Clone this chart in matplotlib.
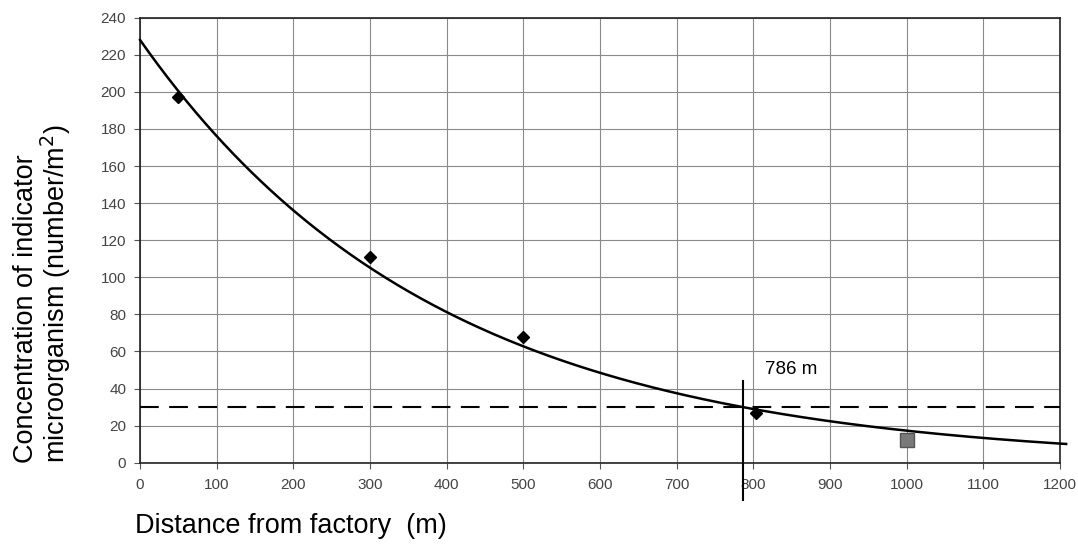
import numpy as np
import matplotlib
matplotlib.use("Agg")
import matplotlib.pyplot as plt

# ─── Daten ────────────────────────────────────────────────────────────────────
dist_pts = [50, 300, 500, 803]          # Messpunkte (Rauten)
conc_pts = [197, 111, 68, 27]
dist_sq = [1000]                         # Einzelpunkt (Quadrat)
conc_sq = [12]

FIT_A = 228.0      # Trendkurve: y = A * exp(-K * x)
FIT_K = 0.00258
THRESHOLD = 30     # gestrichelte Grenzlinie
CROSS_X = 786      # Schnittpunkt
CROSS_LABEL = "786 m"

x_ticks = list(range(0, 1201, 100))
y_ticks = list(range(0, 241, 20))

plt.rcParams["font.family"] = ["Liberation Sans", "DejaVu Sans"]

fig = plt.figure(figsize=(10.78, 5.45), dpi=100)
ax = fig.add_axes([0.1299, 0.151, 0.8534, 0.8165])

ax.set_xlim(0, 1200)
ax.set_ylim(0, 240)
ax.set_xticks(x_ticks)
ax.set_yticks(y_ticks)
ax.grid(True, color="#8a8a8a", linewidth=0.8)
ax.set_axisbelow(True)
for sp in ax.spines.values():
    sp.set_color("#222222")
    sp.set_linewidth(1.2)
ax.tick_params(axis="both", labelsize=11, labelcolor="#444444",
               color="#555555", length=4, width=0.8)
ax.tick_params(axis="x", pad=7)
ax.tick_params(axis="y", pad=6)

# Trendkurve
xs = np.linspace(0, 1208, 400)
ax.plot(xs, FIT_A * np.exp(-FIT_K * xs), color="black", linewidth=1.8,
        clip_on=False, zorder=3)

# Grenzlinie und Schnittpunkt
ax.plot([0, 1200], [THRESHOLD, THRESHOLD], color="black", linewidth=1.5,
        dashes=(9, 5), zorder=3)
ax.plot([CROSS_X, CROSS_X], [44, -20], color="black", linewidth=1.5,
        clip_on=False, zorder=3)
ax.text(CROSS_X + 29, 50, CROSS_LABEL, fontsize=13.5, va="center", ha="left")

# Messpunkte
ax.plot(dist_pts, conc_pts, linestyle="none", marker="D", markersize=6.5,
        color="black", zorder=4)
ax.plot(dist_sq, conc_sq, linestyle="none", marker="s", markersize=9.5,
        markerfacecolor="#7a7a7a", markeredgecolor="#555555", zorder=4)

ax.set_xlabel("Distance from factory  (m)", fontsize=19.5, loc="left")
ax.xaxis.set_label_coords(-0.005, -0.113)

fig.text(0.040, 0.151, "Concentration of indicator\nmicroorganism (number/m$^2$)",
         rotation=90, fontsize=19.5, ha="center", va="bottom",
         multialignment="left", linespacing=1.0)

fig.savefig("out.png", dpi=100)
